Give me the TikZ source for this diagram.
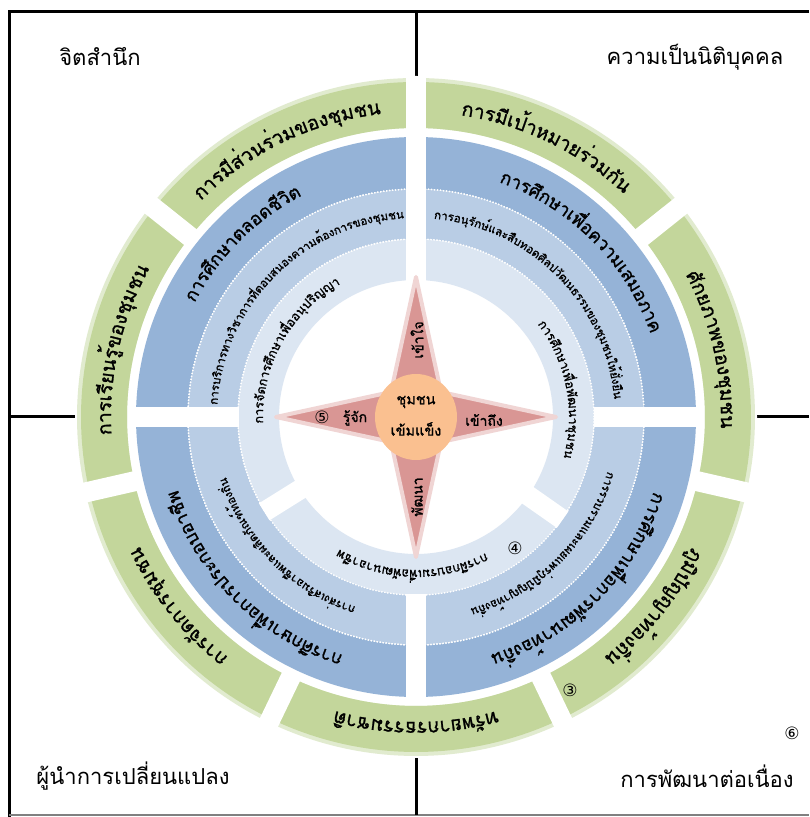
\documentclass[tikz,border=0pt]{standalone}
\usepackage{fontspec}
\usetikzlibrary{decorations.text}
\newfontfamily\thaifont[Script=Thai]{Loma}
\newfontfamily\thaiheavy[Script=Thai,FakeBold=1.2]{Loma}
\newfontfamily\symfont{DejaVu Sans}
\definecolor{greenband}{HTML}{C3D69B}
\definecolor{greenglow}{HTML}{E1EBCF}
\definecolor{blueA}{HTML}{95B3D7}
\definecolor{blueB}{HTML}{B9CDE5}
\definecolor{blueC}{HTML}{DCE6F2}
\definecolor{starred}{HTML}{D99694}
\definecolor{starhalo}{HTML}{F0D5D4}
\definecolor{coreorange}{HTML}{FAC090}
\newcommand\ringsector[5]{\fill[#1] (#4:#2) arc[start angle=#4,end angle=#5,radius=#2] -- (#5:#3) arc[start angle=#5,end angle=#4,radius=#3] -- cycle;}
\newcommand\fG{\thaiheavy\fontsize{19.5}{19.5}\selectfont}
\newcommand\fB{\thaiheavy\fontsize{18}{18}\selectfont}
\newcommand\fM{\thaiheavy\fontsize{11.5}{11.5}\selectfont}
\newcommand\fI{\thaiheavy\fontsize{12.5}{12.5}\selectfont}
\tikzset{
  arctext/.style={decorate, decoration={text along path, text align=center, text={#1}}},
  frameline/.style={black, line width=3},
  corner/.style={font=\thaifont\fontsize{22}{26}\selectfont, inner sep=0pt},
  starlbl/.style={font=\thaiheavy\fontsize{14}{16}\selectfont, inner sep=0pt},
  corelbl/.style={font=\thaiheavy\fontsize{14.5}{16}\selectfont, inner sep=0pt},
  numlbl/.style={font=\symfont\fontsize{17}{17}\selectfont, inner sep=0pt}
}
\begin{document}
\begin{tikzpicture}[x=1pt,y=1pt]
\useasboundingbox (0,0) rectangle (809,817);
\fill[white] (0,0) rectangle (809,817);
% frame
\coordinate (tl) at (9,805);
\coordinate (tr) at (809,805);
\coordinate (bl) at (9,0);
\coordinate (mt) at (416,805);
\coordinate (mb) at (416,2);
\coordinate (ml) at (9,400);
\coordinate (mr) at (809,400);
\draw[frameline] (tr) -- (tl) -- (bl);
\draw[gray, line width=1.5] (9,2) -- (809,2);
\draw[frameline] (mt) -- (mb);
\draw[frameline] (ml) -- (mr);
% corner labels
\node[corner] (c1) at (100,760) {จิตสำนึก};
\node[corner] (c2) at (695,760) {ความเป็นนิติบุคคล};
\node[corner] (c3) at (133,41) {ผู้นำการเปลี่ยนแปลง};
\node[corner] (c4) at (707,41) {การพัฒนาต่อเนื่อง};
\node[numlbl] (n6) at (792,84) {⑥};
\begin{scope}[shift={(416,400)}]
\fill[white] (0,0) circle (341);
% green ring
\foreach \a/\b in {141.43/90, 90/38.57, 38.57/-12.86, -12.86/-64.29, -64.29/-115.71, -115.71/-167.14, 192.86/141.43}{
  \ringsector{greenglow}{339}{289}{\a}{\b}
  \ringsector{greenband}{335}{289}{\a}{\b}}
\foreach \t in {90,38.57,-12.86,-64.29,-115.71,-167.14,141.43}
  \draw[white,line width=20] (\t:284) -- (\t:341);
% blue rings
\foreach \a/\b in {180/90, 90/0, 0/-90, -90/-180}{
  \ringsector{blueA}{280}{228}{\a}{\b}
  \ringsector{blueB}{228}{178}{\a}{\b}}
\foreach \a/\b in {212/90, 90/-35, -35/-148}
  \ringsector{blueC}{178}{137}{\a}{\b}
\draw[white, line width=1.2, dash pattern=on 1.2pt off 1.8pt] (0,0) circle (228) (0,0) circle (178);
\foreach \t in {0,90,180,270}
  \draw[white,line width=20] (\t:177.5) -- (\t:283);
\foreach \t in {90,212,325}
  \draw[white,line width=20] (\t:130) -- (\t:179);
% star
\filldraw[draw=starhalo, fill=starred, line width=4, line join=round]
  (0,140) -- (25,25) -- (140,0) -- (25,-25) -- (0,-140) -- (-25,-25) -- (-140,0) -- (-25,25) -- cycle;
\fill[coreorange] (0,0) ellipse [x radius=41, y radius=43];
\node[corelbl] (core1) at (0,15) {ชุมชน};
\node[corelbl] (core2) at (0,-12) {เข้มแข็ง};
\node[starlbl, rotate=90] (s1) at (1,77) {เข้าใจ};
\node[starlbl, rotate=90] (s2) at (1,-80) {พัฒนา};
\node[starlbl] (s3) at (-61,-1) {รู้จัก};
\node[starlbl] (s4) at (68,-3) {เข้าถึง};
\node[numlbl] (n5) at (-94,0) {⑤};
\node[numlbl] (n4) at (99,-131) {④};
\node[numlbl] (n3) at (154,-273) {③};
% green texts
\path[arctext={|\fG|การมีส่วนร่วมของชุมชน}] (141.43:305) arc[start angle=141.43,end angle=90,radius=305];
\path[arctext={|\fG|การมีเป้าหมายร่วมกัน}] (90:305) arc[start angle=90,end angle=38.57,radius=305];
\path[arctext={|\fG|ศักยภาพของชุมชน}] (38.57:305) arc[start angle=38.57,end angle=-12.86,radius=305];
\path[arctext={|\fG|ภูมิปัญญาท้องถิ่น}] (-12.86:305) arc[start angle=-12.86,end angle=-64.29,radius=305];
\path[arctext={|\fG|ทรัพยากรธรรมชาติ}] (-64.29:305) arc[start angle=-64.29,end angle=-115.71,radius=305];
\path[arctext={|\fG|การจัดการชุมชน}] (-115.71:305) arc[start angle=-115.71,end angle=-167.14,radius=305];
\path[arctext={|\fG|การเรียนรู้ของชุมชน}] (192.86:305) arc[start angle=192.86,end angle=141.43,radius=305];
% blue outer texts
\path[arctext={|\fB|การศึกษาตลอดชีวิต}] (180:249) arc[start angle=180,end angle=90,radius=249];
\path[arctext={|\fB|การศึกษาเพื่อความเสมอภาค}] (90:249) arc[start angle=90,end angle=0,radius=249];
\path[arctext={|\fB|การศึกษาเพื่อการพัฒนาท้องถิ่น}] (0:249) arc[start angle=0,end angle=-90,radius=249];
\path[arctext={|\fB|การศึกษาเพื่อการประกอบอาชีพ}] (-90:249) arc[start angle=-90,end angle=-180,radius=249];
% middle texts
\path[arctext={|\fM|การบริการทางวิชาการที่ตอบสนองความต้องการของชุมชน}] (180:199) arc[start angle=180,end angle=90,radius=199];
\path[arctext={|\fM|การอนุรักษ์และสืบทอดศิลปวัฒนธรรมของชุมชนให้ยั่งยืน}] (90:199) arc[start angle=90,end angle=0,radius=199];
\path[arctext={|\fM|การรวบรวมและเผยแพร่ภูมิปัญญาท้องถิ่น}] (0:199) arc[start angle=0,end angle=-90,radius=199];
\path[arctext={|\fM|การส่งเสริมอาชีพและผลิตภัณฑ์ท้องถิ่น}] (-90:199) arc[start angle=-90,end angle=-180,radius=199];
% inner texts
\path[arctext={|\fI|การจัดการศึกษาเพื่ออนุปริญญา}] (212:153) arc[start angle=212,end angle=90,radius=153];
\path[arctext={|\fI|การศึกษาเพื่อพัฒนาชุมชน}] (40:153) arc[start angle=40,end angle=-18,radius=153];
\path[arctext={|\fI|การฝึกอบรมเพื่อพัฒนาอาชีพ}] (-35:153) arc[start angle=-35,end angle=-148,radius=153];
\end{scope}
\end{tikzpicture}
\end{document}
